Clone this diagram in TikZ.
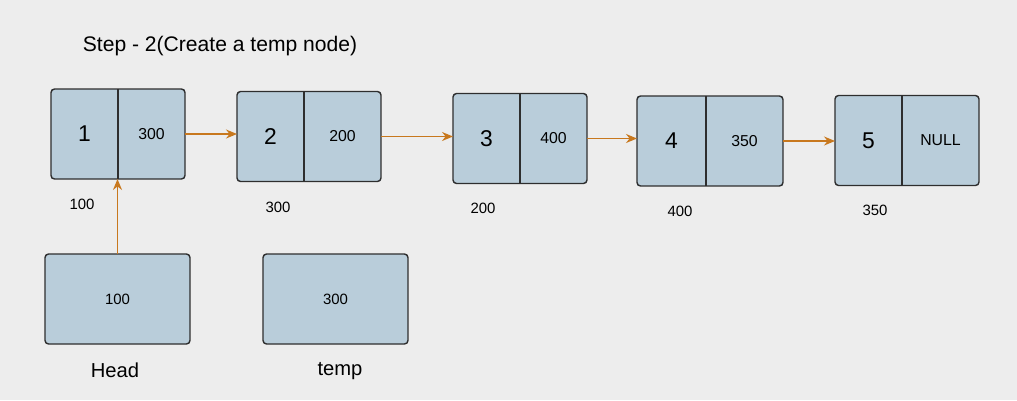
\documentclass[tikz,border=0pt]{standalone}
\usepackage{fontspec}
\setmainfont{Liberation Sans}
\usepackage{tikz}
\usetikzlibrary{arrows.meta,positioning}
\definecolor{fond}{HTML}{EDEDED}
\definecolor{bleuC}{HTML}{B9CDDA}
\definecolor{bord}{HTML}{2E2E2E}
\definecolor{orangeL}{HTML}{C8781E}
\tikzset{
  cell/.style={rectangle, fill=bleuC, outer sep=0pt, inner sep=0pt,
               minimum height=1.8cm, minimum width=#1},
  boite/.style={cell=#1, rounded corners=2pt, draw=bord, line width=0.8pt},
  cadre/.style={draw=bord, line width=0.8pt, rounded corners=2pt},
  val/.style={font=\fontsize{13}{15}\selectfont},
  ptr/.style={font=\fontsize{9}{11}\selectfont},
  addr/.style={font=\fontsize{8.5}{10}\selectfont},
  legende/.style={font=\fontsize{11.5}{13}\selectfont},
  lnk/.style={-{Stealth[length=2.2mm,width=1.8mm]}, line width=0.8pt, draw=orangeL},
}
\begin{document}
\begin{tikzpicture}[x=0.02cm, y=-0.02cm, node distance=0pt]
        \fill[fond] (0,0) rectangle (1017,400);
        \useasboundingbox (0,0) rectangle (1017,400);
        \node[font=\fontsize{12}{14}\selectfont] (titre) at (220,46) {Step - 2(Create a temp node)};
        % la liste
        \node[cell=1.34cm, val] (d1) at (84.5,134) {1};
        \node[cell=1.34cm, ptr, right=of d1] (p1) {300};
        \node[cell=1.34cm, val] (d2) at (270.5,136.5) {2};
        \node[cell=1.54cm, ptr, right=of d2] (p2) {200};
        \node[cell=1.34cm, val] (d3) at (486.5,138.5) {3};
        \node[cell=1.34cm, ptr, right=of d3] (p3) {400};
        \node[cell=1.38cm, val] (d4) at (671.5,141) {4};
        \node[cell=1.54cm, ptr, right=of d4] (p4) {350};
        \node[cell=1.34cm, val] (d5) at (868.5,140.5) {5};
        \node[cell=1.54cm, ptr, right=of d5] (p5) {NULL};
        \foreach \i in {1,...,5} {
          \draw[cadre] (d\i.north west) rectangle (p\i.south east);
          \draw[draw=bord, line width=1.1pt] (d\i.north east) -- (d\i.south east);
        }
        % adresses
        \node[addr] (a1) at (82,204) {100};
        \node[addr] (a2) at (278,207) {300};
        \node[addr] (a3) at (483,208) {200};
        \node[addr] (a4) at (680,211) {400};
        \node[addr] (a5) at (875,210) {350};
        % pointeurs
        \node[boite=2.9cm, font=\fontsize{8.5}{10}\selectfont] (head) at (117.5,299) {100};
        \node[boite=2.9cm, font=\fontsize{8.5}{10}\selectfont] (temp) at (335.5,299) {300};
        \node[legende] (lhead) at (115,370) {Head};
        \node[legende] (ltemp) at (340,371) {temp};
        \draw[lnk] (p1.east) -- (p1.east -| d2.west);
        \draw[lnk] (p2.east) -- (p2.east -| d3.west);
        \draw[lnk] (p3.east) -- (p3.east -| d4.west);
        \draw[lnk] (p4.east) -- (p4.east -| d5.west);
        \draw[lnk] (head.north) -- (head.north |- d1.south);
      \end{tikzpicture}
\end{document}
